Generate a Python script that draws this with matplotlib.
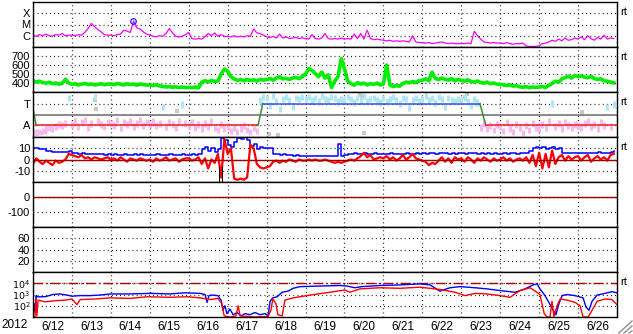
import numpy as np
import matplotlib
matplotlib.use("Agg")
import matplotlib.pyplot as plt

plt.rcParams['font.family'] = ['Liberation Sans', 'DejaVu Sans']
plt.rcParams['axes.unicode_minus'] = False

# x axis: days since 2012-06-12 00:00 UT, 15 days shown
day_labels = ['6/12', '6/13', '6/14', '6/15', '6/16', '6/17', '6/18', '6/19',
              '6/20', '6/21', '6/22', '6/23', '6/24', '6/25', '6/26']

# 2-hour samples, one row per day (12 values)
xray_log = [
    -5.95, -6.05, -5.9, -6.0, -5.85, -6.0, -6.05, -5.9, -5.95, -5.8, -6.0, -5.95,
    -5.95, -6.0, -5.9, -5.95, -5.7, -5.35, -4.9, -5.2, -5.45, -5.65, -5.9, -5.95,
    -5.95, -6.0, -5.9, -5.85, -5.5, -5.6, -5.7, -4.69, -5.3, -5.4, -5.65, -5.85,
    -5.95, -6.05, -6.1, -6.0, -6.05, -5.8, -5.35, -5.75, -6.05, -6.1, -6.05, -5.9,
    -5.7, -6.25, -6.3, -6.25, -6.3, -6.1, -5.8, -6.0, -5.75, -6.05, -5.9, -6.05,
    -6.05, -6.1, -6.0, -6.1, -6.05, -6.1, -6.0, -6.05, -5.4, -5.75, -5.8, -5.95,
    -6.1, -6.15, -6.05, -6.2, -5.85, -6.2, -6.1, -6.25, -6.2, -6.15, -6.25, -6.2,
    -6.25, -6.3, -5.9, -6.25, -6.3, -6.2, -5.8, -6.25, -6.3, -6.25, -6.3, -6.2,
    -6.3, -6.25, -6.3, -5.85, -6.25, -5.8, -6.3, -5.5, -6.25, -6.35, -6.3, -6.35,
    -6.4, -6.45, -6.4, -6.5, -6.45, -6.5, -6.45, -6.5, -6.55, -6.0, -6.55, -6.6,
    -6.6, -6.65, -6.6, -6.7, -6.65, -6.6, -6.55, -6.65, -6.7, -6.65, -6.7, -6.7,
    -6.7, -6.7, -6.65, -6.7, -5.6, -6.0, -6.3, -6.55, -6.6, -6.65, -6.6, -6.65,
    -6.65, -6.7, -6.6, -6.7, -6.75, -6.7, -6.72, -6.65, -6.9, -6.95, -6.95, -6.95,
    -6.9, -6.7, -6.65, -6.55, -6.4, -6.5, -6.3, -6.45, -6.2, -6.4, -6.35, -6.2,
    -6.3, -6.1, -6.35, -6.0, -6.25, -6.4, -6.15, -6.3, -5.95, -6.3, -6.2, -6.25,
]
flare_t = 2.57
flare_log = -4.69

wind_speed = [
    425, 412, 420, 405, 398, 408, 392, 400, 388, 396, 440, 400,
    385, 392, 378, 388, 395, 382, 390, 378, 385, 392, 380, 388,
    390, 382, 395, 386, 378, 392, 384, 388, 376, 390, 382, 378,
    378, 372, 380, 368, 362, 356, 360, 352, 358, 350, 355, 348,
    352, 348, 355, 345, 410, 425, 412, 428, 418, 422, 500, 555,
    530, 470, 445, 430, 438, 425, 440, 428, 435, 422, 440, 432,
    438, 450, 432, 455, 470, 445, 452, 440, 455, 462, 448, 470,
    500, 560, 540, 505, 470, 520, 455, 490, 350, 420, 470, 670,
    560, 420, 395, 375, 405, 388, 398, 380, 392, 385, 400, 378,
    390, 600, 380, 360, 372, 365, 395, 410, 402, 418, 405, 425,
    430, 445, 425, 520, 450, 438, 455, 440, 432, 448, 425, 440,
    430, 420, 435, 415, 410, 422, 405, 398, 410, 392, 400, 388,
    385, 378, 372, 380, 365, 370, 358, 352, 360, 348, 355, 352,
    355, 362, 350, 372, 395, 420, 410, 445, 460, 475, 455, 485,
    470, 480, 465, 458, 475, 450, 440, 448, 425, 420, 410, 402,
]

# sector (T = +1, A = -1) and IMF angle samples
sector_t = [0, 0.08, 5.78, 5.9, 11.48, 11.63, 15]
sector_v = [0.6, -1, -1, 1, 1, -1, -1]
phi = [
    -1.7, -1.6, -1.6, -1.5, -1.3, -1.2, -1.3, -1.1, -0.9, -1.0, -0.8, 1.5,
    -0.9, -0.6, -1.1, -0.7, -0.5, -1.2, -0.8, 1.6, -0.6, -0.9, -1.1, -0.7,
    -0.8, -1.0, -0.5, -1.2, -0.7, -0.9, -0.6, -1.1, -0.8, -0.5, -1.0, -0.7,
    -0.9, -0.6, -1.0, -0.8, 0.7, -1.1, -0.7, -0.9, -1.2, -0.6, 0.9, -0.8,
    -1.0, -0.7, -1.2, -0.9, -1.3, -0.8, -1.1, -0.6, -1.2, -1.4, -0.9, -1.3,
    -1.1, -1.5, -1.2, -1.6, -1.3, -1.0, -1.4, -1.6, -1.2, -1.5, 1.3, 1.6,
    1.5, 0.8, 1.7, 1.2, 0.5, 1.4, 1.6, 1.3, 0.7, 1.5, 1.4, 1.6,
    1.4, 1.6, 1.3, 1.5, 1.2, 1.7, 1.4, 1.3, 1.6, 1.5, 1.2, 1.4,
    1.3, 1.6, 1.4, 1.1, 1.5, 1.3, 1.7, 1.2, 1.4, 1.5, 1.3, 1.1,
    1.5, 1.2, 1.4, 1.6, 1.3, 1.0, 1.5, 1.4, 0.6, 1.3, 1.5, 1.2,
    1.4, 1.7, 1.3, 1.5, 1.1, 1.6, 1.4, 0.7, 1.5, 1.3, 1.2, 1.4,
    1.3, 1.5, 1.2, 0.8, 1.4, 1.1, -1.2, -0.8, -1.3, -1.0, -1.4, -0.9,
    -1.1, -1.5, -0.7, -1.3, -1.6, -0.9, -1.2, -1.7, -1.0, -1.4, -0.8, -1.2,
    -1.3, -0.9, -1.2, -0.6, 1.0, -1.1, -0.8, -1.3, -0.7, -1.0, -1.2, -0.9,
    -1.0, -1.2, -0.8, -0.6, -1.1, -0.9, -1.3, -0.7, -1.0, 0.7, -1.1, 0.9,
]
gray_t = [0.02, 0.1, 0.2, 0.3, 1.6, 1.62, 3.7, 6.05, 6.3, 8.4, 8.45, 8.5, 11.1, 11.15, 14.1]
gray_v = [-1.7, -1.75, -1.7, -1.6, 1.3, 0.5, 0.3, -1.8, -1.9, 1.8, 1.7, -1.7, 1.6, 1.9, 0.2]

imf_bt = [
    10, 10, 9.5, 9, 8, 7.5, 7, 6.5, 6.5, 7, 7, 8,
    6, 5.5, 5, 5.5, 5, 5, 4.5, 5, 4.5, 4.5, 4, 4.5,
    4, 4.5, 4, 4, 4.5, 4, 4, 4.5, 4, 4.5, 4, 4,
    4, 4, 4.5, 4, 4, 4, 4.5, 4, 4, 4, 4.5, 4,
    4, 4.5, 4, 4.5, 9, 11, 8, 10, 7, 9, 19, 17,
    13, 11, 16, 19, 18, 20, 17, 12, 14, 9, 11, 10,
    10, 10, 5, 4.5, 4, 4.5, 4, 4, 3.5, 4, 3.5, 3.5,
    3.5, 3, 3, 3.5, 3, 3, 3, 3.5, 3, 3, 14, 3.5,
    4, 5, 5, 5.5, 5, 5, 5.5, 5, 5, 5.5, 5, 5,
    5, 5, 5.5, 5, 5, 4.5, 5, 5.5, 5, 5, 5.5, 5,
    5.5, 5, 6, 5.5, 5, 5.5, 6, 5.5, 5, 5.5, 5, 5.5,
    5.5, 5, 5.5, 6, 5.5, 5, 5.5, 5, 5.5, 5, 5.5, 5,
    5, 5.5, 5, 6, 5.5, 5, 6, 5.5, 6, 8, 10, 11,
    10, 11, 9, 10, 11, 9.5, 10, 6, 5.5, 6, 5.5, 6,
    6, 5.5, 6, 6, 5.5, 6, 6.5, 6, 5.5, 6, 7, 8,
]
imf_bz = [
    -4, 1, -2, -4, -1, -3, -5, -1, -3, -2, 0, 5,
    4, 3, 2, 4, 1, 2, 0, 2, 1, 0, 1, 2,
    0, 1, -1, 2, 0, -2, 1, 0, -1, 1, 0, -1,
    0, -2, 1, -1, 0, 2, -1, 0, 1, -2, 0, 1,
    1, -1, 0, 2, -4, 1, -8, 0, -3, 5, -16, 18,
    5, 10, -17, -18, -17, -18, -16, 13, 10, -4, -7, -8,
    -7, -6, -2, -1, -3, -1, -2, 0, -1, -2, 0, -1,
    -1, 0, -1, 0, -1, -1, 0, -1, -2, -3, -2, -3,
    -2, -1, 0, -1, 1, 3, 6, 2, 4, 0, 1, 2,
    1, 3, 0, 2, -1, 1, 4, 0, 2, 5, 1, 0,
    -1, -2, -5, -3, -4, -1, 2, -2, 1, -3, 2, 0,
    1, -2, 2, 0, -3, 1, -1, 2, 0, -2, 1, -1,
    0, 2, -1, 1, -2, 0, 1, -1, 2, -3, 4, -6,
    6, -8, 5, -7, 8, -4, 2, 4, -1, 3, 0, 2,
    3, -1, 2, 4, -2, 1, 3, 0, 2, -1, 4, 5,
]

# electron flux, log10, irregular times (days)
eflux_hi_t = [0, 0.026, 0.05, 0.08, 0.10, 0.31, 0.51, 0.69, 0.87, 1.0, 1.21, 1.46, 1.72, 1.98,
              2.49, 3.01, 3.52, 3.90, 4.29, 4.42, 4.47, 4.52, 4.60, 4.75, 4.83, 4.88, 4.93,
              4.98, 5.06, 5.14, 5.24, 5.34, 5.45, 5.57, 5.70, 5.83, 5.96, 6.04, 6.09, 6.16,
              6.27, 6.40, 6.55, 6.68, 6.86, 7.37, 7.89, 8.07, 8.27, 8.45, 8.91, 9.43, 9.94,
              10.20, 10.45, 10.71, 10.97, 11.35, 11.66, 12.0, 12.38, 12.64, 12.84, 12.95,
              13.02, 13.15, 13.25, 13.36, 13.43, 13.51, 13.59, 13.72, 13.92, 14.13, 14.20,
              14.28, 14.36, 14.49, 14.69, 14.87, 15.0]
eflux_hi = [1.5, 2.2, 1.4, 2.9, 2.8, 2.8, 3.0, 3.05, 2.95, 2.85, 2.9, 2.9, 2.95, 3.05,
            3.05, 3.1, 3.05, 3.15, 3.1, 3.0, 2.3, 2.9, 2.95, 2.9, 2.5, 1.6, 2.0,
            1.3, 1.7, 1.2, 1.4, 1.1, 1.3, 1.2, 1.4, 1.2, 1.3, 1.1, 2.4, 2.7,
            2.8, 3.2, 3.3, 3.55, 3.7, 3.75, 3.8, 3.75, 3.6, 3.7, 3.8, 3.85, 3.95,
            3.85, 3.3, 3.6, 3.7, 3.6, 3.5, 3.35, 3.2, 3.5, 3.85, 3.95,
            3.5, 2.9, 2.3, 1.6, 1.2, 2.2, 2.9, 3.0, 2.9, 2.7, 1.9,
            1.6, 2.4, 2.95, 3.1, 3.25, 3.15]
eflux_lo_t = [0, 0.05, 0.08, 0.10, 0.13, 0.31, 0.57, 0.82, 1.0, 1.13, 1.21, 1.59, 1.98, 2.49,
              2.93, 3.52, 3.96, 4.29, 4.55, 4.75, 4.85, 4.91, 5.06, 5.21, 5.27, 5.32, 5.70,
              6.04, 6.11, 6.16, 6.24, 6.29, 6.40, 6.47, 6.68, 7.12, 7.63, 8.01, 8.14, 8.40,
              8.91, 9.43, 9.94, 10.45, 10.84, 11.10, 11.35, 11.66, 12.0, 12.25, 12.51, 12.77,
              12.90, 13.02, 13.13, 13.20, 13.28, 13.33, 13.38, 13.46, 13.54, 13.72, 13.92,
              14.05, 14.13, 14.26, 14.36, 14.49, 14.69, 14.87, 15.0]
eflux_lo = [1.0, 1.0, 2.6, 1.1, 2.5, 2.35, 2.45, 2.5, 2.6, 2.1, 2.55, 2.6, 2.7, 2.65,
            2.8, 2.75, 2.8, 2.7, 2.55, 2.65, 2.2, 1.1, 1.0, 1.1, 2.0, 1.1, 1.0,
            1.05, 1.6, 2.6, 2.2, 1.2, 1.1, 2.5, 2.7, 2.95, 3.2, 3.4, 3.2, 3.5,
            3.6, 3.55, 3.65, 3.45, 3.2, 2.9, 3.1, 3.05, 2.9, 2.75, 3.35, 3.6,
            3.3, 3.0, 1.3, 1.0, 1.0, 2.4, 1.0, 2.0, 2.6, 2.5, 2.3,
            2.0, 1.0, 1.0, 1.6, 2.4, 2.6, 2.55, 2.1]

# ---------------------------------------------------------------
t = np.arange(len(wind_speed)) / 12.0

fig = plt.figure(figsize=(6.33, 3.34), dpi=100)
W, H = 633.0, 334.0
x0, x1 = 33, 617
top0, ph = 2, 45
fs = 8

dot = (0, (0.7, 2.6))
axes = []
for i in range(7):
    top = top0 + ph * i
    ax = fig.add_axes([x0 / W, 1 - (top + ph) / H, (x1 - x0) / W, ph / H])
    ax.set_xlim(0, 15)
    ax.set_xticks(np.arange(0, 16))
    ax.set_xticks(np.arange(15) + 0.5, minor=True)
    ax.tick_params(axis='both', which='both', length=0, labelsize=fs, pad=2)
    ax.tick_params(axis='x', which='major', labelbottom=False)
    ax.tick_params(axis='x', which='minor', labelbottom=False)
    for s in ax.spines.values():
        s.set_linewidth(1.0)
    axes.append(ax)

def grid(ax):
    ax.grid(True, axis='both', which='major', color='black', linestyle=dot, linewidth=0.9)

# panel 1: X-ray
ax = axes[0]
ax.set_yscale('log')
ax.set_ylim(1e-7, 1e-3)
ax.set_yticks([1e-6, 1e-5, 1e-4])
ax.set_yticklabels(['C', 'M', 'X'])
ax.yaxis.set_minor_locator(plt.NullLocator())
grid(ax)
ax.plot(t, 10 ** np.array(xray_log), color='#ff00ff', lw=0.9)
ax.plot([flare_t], [10 ** flare_log], 'o', mfc='none', mec='#2020ff', ms=4, mew=0.9)

# panel 2: solar wind speed
ax = axes[1]
ax.set_ylim(300, 800)
ax.set_yticks([400, 500, 600, 700])
grid(ax)
ax.plot(t, wind_speed, color='#00ee00', lw=2.6)

# panel 3: sector
ax = axes[2]
ax.set_ylim(-2.05, 2.05)
ax.set_yticks([-1, 1])
ax.set_yticklabels(['A', 'T'])
grid(ax)
phi_a = np.array(phi)
phi_col = np.where(phi_a < 0, '#f8b8f0', '#ace6f8')
ax.vlines(t, phi_a - 0.3, phi_a + 0.3, colors=phi_col, lw=2.2)
ax.scatter(gray_t, gray_v, s=5, marker='s', linewidths=0, color='#c8c8c8')
ax.axhline(0, color='#808080', lw=1.3)
seg_colors = ['#3c8a3c', '#ee2020', '#3c8a3c', '#4050e0', '#3c8a3c', '#ee2020']
for k in range(len(sector_t) - 1):
    ax.plot(sector_t[k:k + 2], sector_v[k:k + 2], color=seg_colors[k], lw=1.1)

# panel 4: IMF
ax = axes[3]
ax.set_ylim(-20, 20)
ax.set_yticks([-10, 0, 10])
grid(ax)
ax.plot(t, imf_bt, color='#0000ff', lw=1.1, drawstyle='steps-post')
ax.plot(t, imf_bz, color='#ff0000', lw=1.6)
ax.axhline(0, color='#a00000', lw=1.0)
ax.vlines([4.77, 4.85], -20, -6, color='black', lw=0.7)

# panel 5
ax = axes[4]
ax.set_ylim(-200, 100)
ax.set_yticks([-100, 0])
grid(ax)
ax.axhline(0, color='#a00000', lw=1.0)

# panel 6
ax = axes[5]
ax.set_ylim(0, 80)
ax.set_yticks([20, 40, 60])
grid(ax)

# panel 7: electron flux
ax = axes[6]
ax.set_yscale('log')
ax.set_ylim(10, 1e5)
ax.set_yticks([1e2, 1e3, 1e4])
ax.set_yticklabels(['$10^2$', '$10^3$', '$10^4$'])
ax.yaxis.set_minor_locator(plt.NullLocator())
ax.tick_params(axis='y', labelsize=6.8)
grid(ax)
ax.axhline(1e4, color='#b00000', lw=1.0, linestyle=(0, (7, 2.2, 1.2, 2.2)))
ax.plot(eflux_hi_t, 10 ** np.array(eflux_hi), color='#0000ff', lw=1.0)
ax.plot(eflux_lo_t, 10 ** np.array(eflux_lo), color='#ff0000', lw=1.0)
ax.tick_params(axis='x', which='minor', labelbottom=True, labelsize=fs + 0.5, pad=3)
ax.set_xticklabels(day_labels, minor=True)

# right-side tags
for i in [0, 1, 2, 3, 6]:
    fig.text(620 / W, 1 - (top0 + ph * i + 10) / H, 'rt', fontsize=fs, va='center', ha='left')
fig.text(1 / W, 1 - 325 / H, '2012', fontsize=fs + 0.5, va='center', ha='left')

# resize grip
for k in range(3):
    off = 4 + 5 * k
    fig.add_artist(plt.Line2D([(633 - off) / W, 632 / W], [1 / H, (off - 1) / H],
                              color='#909090', lw=1.0, transform=fig.transFigure))

fig.savefig('out.png', dpi=100)
